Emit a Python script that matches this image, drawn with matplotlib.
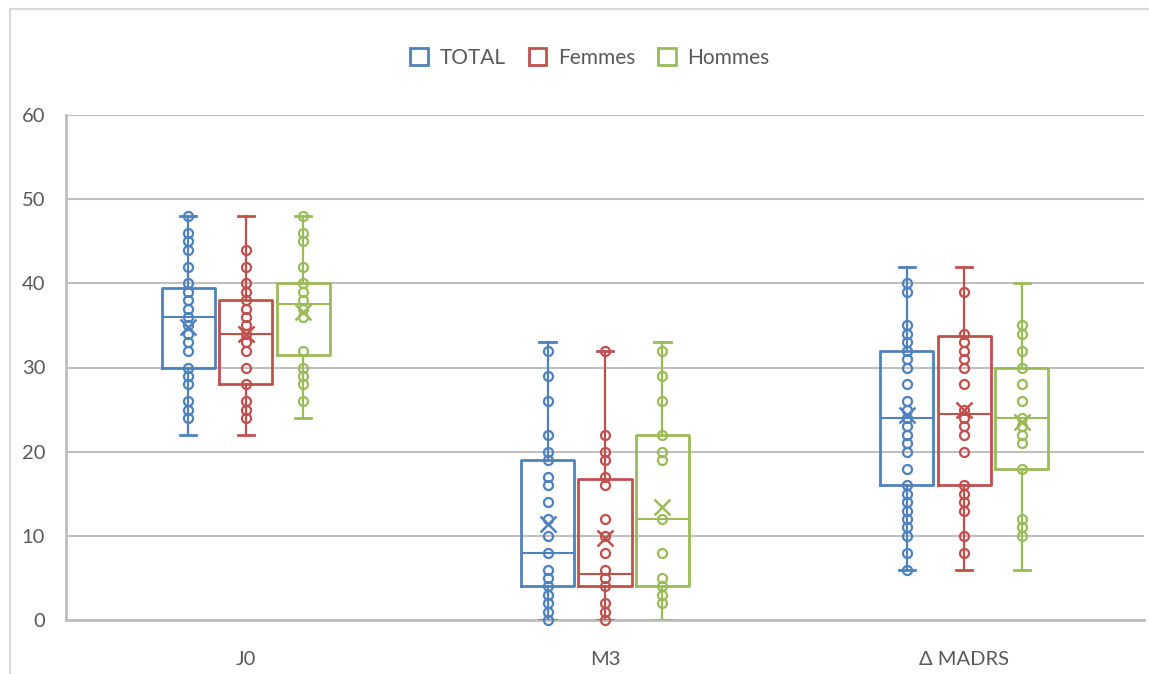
"""Box-and-whisker chart of MADRS scores (J0, M3, delta) by sex, Excel style."""

import matplotlib.pyplot as plt
from matplotlib.patches import Patch, Rectangle

plt.rcParams["font.family"] = ["Lato", "DejaVu Sans"]

CATEGORIES = ["J0", "M3", "Δ MADRS"]
SERIES = ["TOTAL", "Femmes", "Hommes"]
COLORS = ["#4F81BD", "#C0504D", "#9BBB59"]

# quartiles / whiskers / means, one value per category
total_q1 = [30, 4, 16]
total_med = [36, 8, 24]
total_q3 = [39.5, 19, 32]
total_lo = [22, 0, 6]
total_hi = [48, 33, 42]
total_mean = [34.8, 11.4, 24.4]

femmes_q1 = [28, 4, 16]
femmes_med = [34, 5.5, 24.5]
femmes_q3 = [38, 16.7, 33.75]
femmes_lo = [22, 0, 6]
femmes_hi = [48, 32, 42]
femmes_mean = [34.0, 9.8, 24.9]

hommes_q1 = [31.5, 4, 18]
hommes_med = [37.5, 12, 24]
hommes_q3 = [40, 22, 30]
hommes_lo = [24, 0, 6]
hommes_hi = [48, 33, 40]
hommes_mean = [36.6, 13.4, 23.5]

# inner points (distinct values) per category
total_pts = [
    [48, 46, 45, 44, 42, 40, 39, 38, 37, 36, 35, 34, 33, 32, 30, 29, 28, 26, 25, 24],
    [32, 29, 26, 22, 20, 19, 17, 16, 14, 12, 10, 8, 6, 5, 4, 3, 2, 1, 0],
    [40, 39, 35, 34, 33, 32, 31, 30, 28, 26, 25, 24, 23, 22, 21, 20, 18, 16, 15, 14,
     13, 12, 11, 10, 8, 6],
]
femmes_pts = [
    [44, 42, 40, 39, 38, 37, 36, 35, 34, 33, 32, 30, 28, 26, 25, 24],
    [32, 22, 20, 19, 17, 16, 12, 10, 8, 6, 5, 4, 2, 1, 0],
    [39, 34, 33, 32, 31, 30, 28, 25, 24, 23, 22, 20, 16, 15, 14, 13, 10, 8],
]
hommes_pts = [
    [48, 46, 45, 42, 40, 39, 38, 37, 36, 32, 30, 29, 28, 26],
    [32, 29, 26, 22, 20, 19, 12, 8, 5, 4, 3, 2],
    [35, 34, 32, 30, 28, 26, 24, 23, 22, 21, 18, 12, 11, 10],
]

STATS = [
    (total_q1, total_med, total_q3, total_lo, total_hi, total_mean, total_pts),
    (femmes_q1, femmes_med, femmes_q3, femmes_lo, femmes_hi, femmes_mean, femmes_pts),
    (hommes_q1, hommes_med, hommes_q3, hommes_lo, hommes_hi, hommes_mean, hommes_pts),
]

GRID = "#BFBFBF"
TEXT = "#595959"

fig = plt.figure(figsize=(11.49, 6.74), dpi=100)
ax = fig.add_axes([66 / 1149, 54 / 674, 1078 / 1149, 505 / 674])

# chart area border (only left and top visible in the original)
fig.patches.append(Rectangle((10 / 1149, -0.05), 1.2, (674 - 9) / 674 + 0.05,
                             transform=fig.transFigure, fill=False,
                             edgecolor="#D9D9D9", linewidth=1.5, zorder=0))

offsets = [-0.16, 0.0, 0.16]
box_w = 0.148
for idx, (q1, med, q3, lo, hi, mn, pts) in enumerate(STATS):
    color = COLORS[idx]
    stats = [
        {"q1": q1[i], "med": med[i], "q3": q3[i], "whislo": lo[i], "whishi": hi[i],
         "mean": mn[i], "fliers": []}
        for i in range(len(CATEGORIES))
    ]
    pos = [i + offsets[idx] for i in range(len(CATEGORIES))]
    ax.bxp(
        stats, positions=pos, widths=box_w, capwidths=0.045, showmeans=True,
        boxprops=dict(color=color, linewidth=2.0),
        medianprops=dict(color=color, linewidth=1.5),
        whiskerprops=dict(color=color, linewidth=1.6),
        capprops=dict(color=color, linewidth=2.0),
        meanprops=dict(marker="x", markeredgecolor=color, markersize=11,
                       markeredgewidth=1.8),
        manage_ticks=False, zorder=3,
    )
    for i, p in enumerate(pos):
        ax.plot([p] * len(pts[i]), pts[i], linestyle="none", marker="o",
                markersize=6.5, markerfacecolor="none", markeredgecolor=color,
                markeredgewidth=1.6, clip_on=False, zorder=4)

ax.set_xlim(-0.5, 2.5)
ax.set_ylim(0, 60)
ax.set_yticks(range(0, 61, 10))
ax.set_xticks(range(len(CATEGORIES)))
ax.set_xticklabels(CATEGORIES)
ax.yaxis.grid(True, color=GRID, linewidth=1.5)
ax.set_axisbelow(True)
ax.tick_params(axis="both", length=0, labelsize=14.5, labelcolor=TEXT)
ax.tick_params(axis="y", pad=15)
ax.tick_params(axis="x", pad=22)
for side in ["top", "right"]:
    ax.spines[side].set_visible(False)
for side in ["left", "bottom"]:
    ax.spines[side].set_color(GRID)
    ax.spines[side].set_linewidth(2.0)

handles = [Patch(facecolor="none", edgecolor=c, linewidth=2.0) for c in COLORS]
fig.legend(handles, SERIES, loc="center", bbox_to_anchor=(590 / 1149, 1 - 58 / 674),
           ncol=3, frameon=False, fontsize=15, labelcolor=TEXT,
           handlelength=0.85, handleheight=0.85, handletextpad=0.55, columnspacing=1.1)

fig.savefig("out.png", dpi=100)
